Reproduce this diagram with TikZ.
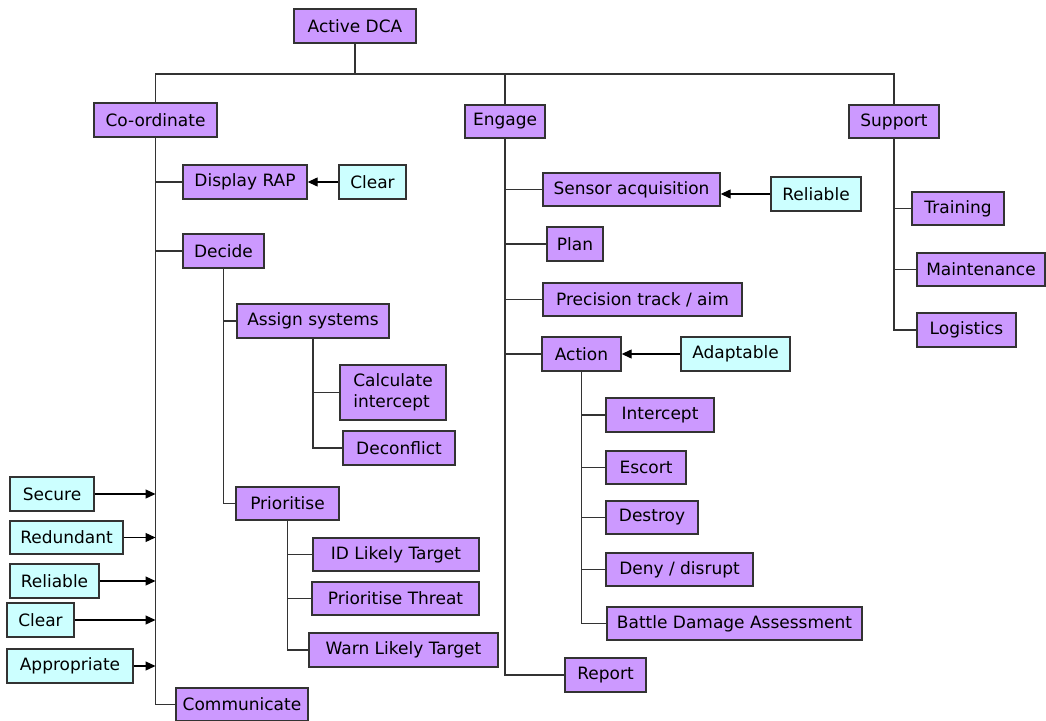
\documentclass[tikz,border=0pt]{standalone}
\usepackage{fontspec}
\setmainfont{DejaVu Sans}
\usetikzlibrary{arrows.meta}
\definecolor{taskfill}{HTML}{CC99FF}
\definecolor{qualfill}{HTML}{CCFFFF}
\definecolor{edge}{HTML}{333333}
\begin{document}
\begin{tikzpicture}[x=1pt,y=-1pt,
  box/.style={draw=edge,line width=1.4pt,inner sep=0pt,
    font=\fontsize{17}{21}\selectfont,text=black},
  task/.style={box,fill=taskfill},
  qual/.style={box,fill=qualfill},
  link/.style={draw=edge,line width=1.4pt},
  arr/.style={draw=black,line width=1.3pt,-{Triangle[length=10pt,width=9pt]}}]
\useasboundingbox[fill=white] (0,0) rectangle (1046,720);

% top level
\node[task,minimum width=122pt,minimum height=34pt] (dca) at (355,26) {Active DCA};
\node[task,minimum width=123pt,minimum height=34pt] (co) at (155.5,120) {Co-ordinate};
\node[task,minimum width=80pt,minimum height=33pt] (eng) at (505,121.5) {Engage};
\node[task,minimum width=90pt,minimum height=33pt] (sup) at (894,121.5) {Support};
\coordinate (bus) at (355,74);
\draw[link] (dca.south) -- (bus);
\draw[link] (bus) -| (co.north);
\draw[link] (bus) -| (eng.north);
\draw[link] (bus) -| (sup.north);

% co-ordinate branch
\node[task,minimum width=124pt,minimum height=34pt] (disp) at (245,182) {Display RAP};
\node[qual,minimum width=67pt,minimum height=34pt] (clr1) at (372.5,182) {Clear};
\node[task,minimum width=81pt,minimum height=34pt] (dec) at (223.5,251) {Decide};
\node[task,minimum width=152pt,minimum height=34pt] (asg) at (313,321) {Assign systems};
\node[task,minimum width=106pt,minimum height=55pt,align=left] (calc) at (393,392.5) {Calculate\\intercept};
\node[task,minimum width=112pt,minimum height=34pt] (dcf) at (399,448) {Deconflict};
\node[task,minimum width=103pt,minimum height=33pt] (pri) at (287.5,503.5) {Prioritise};
\node[task,minimum width=166pt,minimum height=33pt] (idt) at (396,554.5) {ID Likely Target};
\node[task,minimum width=167pt,minimum height=33pt] (pth) at (395.5,598.5) {Prioritise Threat};
\node[task,minimum width=189pt,minimum height=34pt] (warn) at (403.5,650) {Warn Likely Target};
\node[task,minimum width=132pt,minimum height=33pt] (comm) at (242,704.5) {Communicate};

\draw[link] (co.south) |- (disp.west);
\draw[link] (co.south) |- (dec.west);
\draw[link] (co.south) |- (comm.west);
\draw[link] (dec.south) |- (asg.west);
\draw[link] (dec.south) |- (pri.west);
\draw[link] (asg.south) |- (calc.west);
\draw[link] (asg.south) |- (dcf.west);
\draw[link] (pri.south) |- (idt.west);
\draw[link] (pri.south) |- (pth.west);
\draw[link] (pri.south) |- (warn.west);
\draw[arr] (clr1.west) -- (disp.east);

% qualities feeding the co-ordinate line
\node[qual,minimum width=84pt,minimum height=34pt] (sec) at (52,494) {Secure};
\node[qual,minimum width=113pt,minimum height=33pt] (red) at (66.5,537.5) {Redundant};
\node[qual,minimum width=89pt,minimum height=34pt] (rel1) at (54.5,581) {Reliable};
\node[qual,minimum width=67pt,minimum height=34pt] (clr2) at (40.5,620) {Clear};
\node[qual,minimum width=126pt,minimum height=34pt] (app) at (70,666) {Appropriate};
\foreach \q in {sec,red,rel1,clr2,app}
  \draw[arr] (\q.east) -- (\q.east -| co.south);

% engage branch
\node[task,minimum width=177pt,minimum height=33pt] (sens) at (631.5,189.5) {Sensor acquisition};
\node[qual,minimum width=90pt,minimum height=34pt] (rel2) at (816,194) {Reliable};
\node[task,minimum width=56pt,minimum height=34pt] (plan) at (575,244) {Plan};
\node[task,minimum width=199pt,minimum height=33pt] (prec) at (642.5,299.5) {Precision track / aim};
\node[task,minimum width=79pt,minimum height=34pt] (act) at (581.5,354) {Action};
\node[qual,minimum width=109pt,minimum height=34pt] (adp) at (735.5,354) {Adaptable};
\node[task,minimum width=108pt,minimum height=34pt] (icp) at (660,415) {Intercept};
\node[task,minimum width=80pt,minimum height=33pt] (esc) at (646,467.5) {Escort};
\node[task,minimum width=92pt,minimum height=33pt] (dst) at (652,517.5) {Destroy};
\node[task,minimum width=147pt,minimum height=33pt] (deny) at (679.5,569.5) {Deny / disrupt};
\node[task,minimum width=255pt,minimum height=33pt] (bda) at (734.5,623.5) {Battle Damage Assessment};
\node[task,minimum width=81pt,minimum height=34pt] (rep) at (605.5,675) {Report};

\foreach \t in {sens,plan,prec,act,rep}
  \draw[link] (eng.south) |- (\t.west);
\foreach \t in {icp,esc,dst,deny,bda}
  \draw[link] (act.south) |- (\t.west);
\draw[arr] (rel2.west) -- (rel2.west -| sens.east);
\draw[arr] (adp.west) -- (act.east);

% support branch
\node[task,minimum width=92pt,minimum height=33pt] (trn) at (958,208.5) {Training};
\node[task,minimum width=128pt,minimum height=33pt] (mnt) at (981,269.5) {Maintenance};
\node[task,minimum width=99pt,minimum height=34pt] (lgs) at (966.5,330) {Logistics};
\foreach \t in {trn,mnt,lgs}
  \draw[link] (sup.south) |- (\t.west);
\end{tikzpicture}
\end{document}
